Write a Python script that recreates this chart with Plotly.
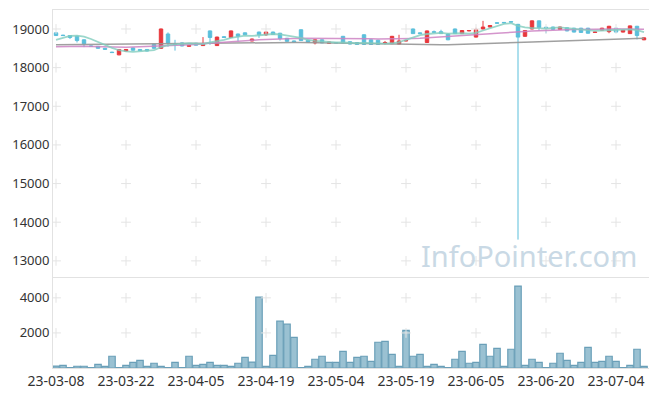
import plotly.graph_objects as go
from plotly.subplots import make_subplots

dates = [
    "2023-03-08","2023-03-09","2023-03-10","2023-03-13","2023-03-14","2023-03-15","2023-03-16","2023-03-17",
    "2023-03-20","2023-03-21","2023-03-22","2023-03-23","2023-03-24","2023-03-27","2023-03-28","2023-03-29",
    "2023-03-30","2023-03-31","2023-04-03","2023-04-04","2023-04-05","2023-04-06","2023-04-07","2023-04-10",
    "2023-04-11","2023-04-12","2023-04-13","2023-04-14","2023-04-17","2023-04-18","2023-04-19","2023-04-20",
    "2023-04-21","2023-04-24","2023-04-25","2023-04-26","2023-04-27","2023-04-28","2023-05-02","2023-05-03",
    "2023-05-04","2023-05-08","2023-05-09","2023-05-10","2023-05-11","2023-05-12","2023-05-15","2023-05-16",
    "2023-05-17","2023-05-18","2023-05-19","2023-05-22","2023-05-23","2023-05-24","2023-05-25","2023-05-26",
    "2023-05-30","2023-05-31","2023-06-01","2023-06-02","2023-06-05","2023-06-07","2023-06-08","2023-06-09",
    "2023-06-12","2023-06-13","2023-06-14","2023-06-15","2023-06-16","2023-06-19","2023-06-20","2023-06-21",
    "2023-06-22","2023-06-23","2023-06-26","2023-06-27","2023-06-28","2023-06-29","2023-06-30","2023-07-03",
    "2023-07-04","2023-07-05","2023-07-06","2023-07-07","2023-07-10",
]

open_ = [
    18900, 18840, 18830, 18810, 18720, 18560, 18550, 18500, 18400, 18330,
    18430, 18510, 18470, 18470, 18600, 18500, 18870, 18610, 18640, 18550,
    18630, 18570, 18950, 18570, 18800, 18780, 18870, 18900, 18690, 18920,
    18850, 18920, 18890, 18760, 18690, 18980, 18710, 18640, 18720, 18630,
    18650, 18810, 18670, 18650, 18850, 18720, 18710, 18630, 18620, 18610,
    18690, 19000, 18900, 18650, 18930, 18930, 18870, 19000, 18880, 18950,
    18790, 19000, 19050, 19160, 19170, 19190, 19120, 18810, 19000, 19210,
    19045, 19050, 18990, 19030, 19020, 19020, 19020, 18910, 18970, 18930,
    19020, 18920, 18880, 19070, 18720,
]
close = [
    18830, 18830, 18780, 18700, 18620, 18550, 18500, 18475, 18390, 18470,
    18470, 18450, 18440, 18430, 18500, 19000, 18640, 18600, 18560, 18570,
    18580, 18600, 18780, 18790, 18780, 18950, 18810, 18850, 18740, 18850,
    18920, 18860, 18750, 18680, 18670, 18700, 18660, 18720, 18640, 18660,
    18640, 18640, 18610, 18600, 18600, 18600, 18600, 18650, 18810, 18690,
    18700, 18880, 18880, 18950, 18915, 18880, 18720, 18880, 18960, 18960,
    18980, 19050, 19090, 19150, 19160, 19180, 18790, 18960, 19210, 19040,
    19030, 18990, 19050, 18950, 18920, 18910, 18890, 18920, 19020, 19070,
    18920, 18970, 19080, 18830, 18770,
]
high = [
    18910, 18850, 18840, 18830, 18730, 18570, 18560, 18510, 18410, 18480,
    18480, 18520, 18480, 18480, 18610, 19010, 18910, 18720, 18650, 18580,
    18640, 18790, 18960, 18800, 18810, 18960, 18880, 18910, 18750, 18930,
    18930, 18930, 18900, 18770, 18700, 18990, 18720, 18730, 18730, 18670,
    18660, 18820, 18680, 18660, 18860, 18730, 18720, 18690, 18820, 18850,
    18720, 19010, 18910, 18960, 18960, 18980, 18880, 19010, 18970, 18970,
    19030, 19210, 19100, 19170, 19180, 19200, 19130, 18970, 19220, 19220,
    19060, 19060, 19060, 19040, 19030, 19030, 19030, 18930, 19030, 19080,
    19030, 18980, 19090, 19080, 18780,
]
low = [
    18820, 18820, 18740, 18650, 18530, 18540, 18490, 18465, 18380, 18320,
    18420, 18440, 18430, 18420, 18490, 18490, 18540, 18440, 18550, 18540,
    18570, 18560, 18590, 18560, 18770, 18770, 18680, 18840, 18680, 18770,
    18820, 18850, 18700, 18670, 18660, 18690, 18650, 18600, 18630, 18620,
    18630, 18630, 18600, 18590, 18590, 18590, 18590, 18600, 18610, 18600,
    18680, 18870, 18870, 18640, 18900, 18870, 18710, 18870, 18870, 18940,
    18780, 18990, 19040, 19140, 19150, 19170, 13550, 18800, 18990, 18960,
    18890, 18980, 18980, 18940, 18910, 18900, 18880, 18900, 18960, 18890,
    18910, 18910, 18870, 18730, 18710,
]
volume = [
    110, 150, 30, 100, 100, 20, 210, 95, 670, 20,
    150, 320, 440, 95, 270, 95, 20, 320, 20, 670,
    150, 210, 320, 150, 150, 95, 270, 610, 340, 4040,
    95, 720, 2670, 2500, 1750, 20, 95, 500, 670, 320,
    320, 950, 320, 610, 670, 380, 1470, 1520, 780, 95,
    2150, 670, 780, 95, 210, 95, 30, 500, 950, 270,
    320, 1350, 670, 1120, 95, 1070, 4670, 150, 500, 320,
    20, 270, 840, 440, 150, 320, 1180, 320, 380, 670,
    380, 20, 150, 1070, 95,
]
ma5 = [
    18720, 18780, 18820, 18830, 18800, 18740, 18660, 18580, 18510, 18450,
    18420, 18410, 18420, 18430, 18450, 18530, 18580, 18600, 18610, 18630,
    18620, 18610, 18650, 18680, 18720, 18770, 18800, 18830, 18820, 18840,
    18860, 18870, 18860, 18830, 18800, 18770, 18720, 18690, 18680, 18660,
    18650, 18650, 18640, 18630, 18640, 18630, 18620, 18620, 18630, 18660,
    18720, 18780, 18840, 18870, 18890, 18900, 18880, 18890, 18890, 18880,
    18900, 18960, 19020, 19080, 19130, 19150, 19080, 19040, 19020, 19020,
    19010, 19030, 19040, 19020, 19000, 18990, 18970, 18950, 18960, 18970,
    18980, 18980, 18990, 18970, 18920,
]
ma20 = [
    18540, 18545, 18550, 18550, 18550, 18545, 18540, 18535, 18530, 18530,
    18530, 18535, 18540, 18545, 18550, 18560, 18565, 18570, 18580, 18590,
    18600, 18615, 18630, 18645, 18660, 18675, 18690, 18700, 18710, 18720,
    18730, 18740, 18745, 18750, 18755, 18760, 18760, 18760, 18755, 18755,
    18750, 18750, 18750, 18745, 18745, 18745, 18740, 18740, 18740, 18745,
    18750, 18755, 18760, 18770, 18780, 18790, 18800, 18810, 18820, 18830,
    18845, 18860, 18875, 18890, 18905, 18920, 18930, 18935, 18945, 18955,
    18965, 18970, 18975, 18980, 18985, 18990, 18995, 18995, 19000, 19000,
    19000, 19000, 19000, 19000, 18995,
]
ma60 = [
    18590, 18592, 18594, 18596, 18598, 18600, 18602, 18604, 18606, 18608,
    18610, 18612, 18614, 18616, 18618, 18620, 18622, 18625, 18628, 18631,
    18634, 18637, 18640, 18643, 18646, 18648, 18650, 18652, 18654, 18655,
    18656, 18655, 18654, 18652, 18650, 18647, 18644, 18640, 18636, 18632,
    18628, 18624, 18620, 18616, 18612, 18608, 18604, 18600, 18596, 18592,
    18590, 18588, 18586, 18586, 18588, 18590, 18594, 18598, 18603, 18608,
    18614, 18620, 18626, 18632, 18638, 18644, 18650, 18656, 18662, 18668,
    18674, 18680, 18686, 18692, 18698, 18704, 18710, 18716, 18722, 18728,
    18734, 18740, 18746, 18752, 18758,
]

tick_dates = ["2023-03-08", "2023-03-22", "2023-04-05", "2023-04-19", "2023-05-04",
              "2023-05-19", "2023-06-05", "2023-06-20", "2023-07-04"]
tick_labels = ["23-03-08", "23-03-22", "23-04-05", "23-04-19", "23-05-04",
               "23-05-19", "23-06-05", "23-06-20", "23-07-04"]
price_ticks = [13000, 14000, 15000, 16000, 17000, 18000, 19000]
volume_ticks = [2000, 4000]

UP = "#e8383d"
DOWN = "#5bbfdb"
FONT = "Noto Sans"
AXC = "#e2e2e2"

fig = make_subplots(rows=2, cols=1, shared_xaxes=True, vertical_spacing=0.003,
                    row_heights=[0.747, 0.253])

# grid "+" markers at tick intersections (drawn first, underneath)
gx, gy = [], []
for d in tick_dates:
    for p in price_ticks:
        gx.append(d); gy.append(p)
fig.add_trace(go.Scatter(x=gx, y=gy, mode="markers", hoverinfo="skip",
                         marker=dict(symbol="cross-thin", size=7,
                                     line=dict(color="#e4e4e4", width=1))), row=1, col=1)
vx, vy = [], []
for d in tick_dates:
    for v in volume_ticks:
        vx.append(d); vy.append(v)
fig.add_trace(go.Scatter(x=vx, y=vy, mode="markers", hoverinfo="skip",
                         marker=dict(symbol="cross-thin", size=7,
                                     line=dict(color="#e4e4e4", width=1))), row=2, col=1)

fig.add_trace(go.Scatter(x=dates, y=ma60, mode="lines", hoverinfo="skip",
                         line=dict(color="rgba(150,150,150,0.9)", width=1.5)), row=1, col=1)
fig.add_trace(go.Scatter(x=dates, y=ma20, mode="lines", hoverinfo="skip",
                         line=dict(color="rgba(205,130,195,0.85)", width=1.5)), row=1, col=1)
fig.add_trace(go.Scatter(x=dates, y=ma5, mode="lines", hoverinfo="skip",
                         line=dict(color="rgba(130,205,190,0.8)", width=1.8)), row=1, col=1)

fig.add_trace(go.Candlestick(
    x=dates, open=open_, high=high, low=low, close=close,
    increasing=dict(line=dict(color=UP, width=1), fillcolor=UP),
    decreasing=dict(line=dict(color=DOWN, width=1), fillcolor=DOWN),
    whiskerwidth=0, hoverinfo="skip"), row=1, col=1)

fig.add_trace(go.Bar(x=dates, y=volume, hoverinfo="skip",
                     marker=dict(color="#9ac1d2",
                                 line=dict(color="#6a9fb8", width=1.2))),
              row=2, col=1)

xr = [-0.43, 85.57]
fig.update_xaxes(type="category", categoryorder="array", categoryarray=dates,
                 range=xr, showgrid=False, zeroline=False,
                 showline=True, linecolor=AXC, linewidth=1, mirror=True,
                 tickmode="array", tickvals=tick_dates, ticktext=tick_labels,
                 ticks="", tickangle=0, automargin=False,
                 rangeslider=dict(visible=False),
                 tickfont=dict(family=FONT, size=14, color="#333333"))
fig.update_xaxes(showticklabels=False, row=1, col=1)
fig.update_yaxes(showgrid=False, zeroline=False, showline=True, linecolor=AXC,
                 linewidth=1, mirror=True, ticks="", tickformat="d", automargin=False,
                 tickfont=dict(family=FONT, size=13, color="#333333"))
fig.update_yaxes(range=[12592, 19491], tickvals=price_ticks, row=1, col=1)
fig.update_yaxes(range=[0, 5150], tickvals=volume_ticks, row=2, col=1)

fig.add_annotation(text="InfoPointer.com", xref="paper", yref="paper",
                   x=0.79, y=0.313, xanchor="center", yanchor="middle",
                   showarrow=False,
                   font=dict(family=FONT, size=29, color="#c9d9e5"))

# page body has an 8px margin: shrink the figure and offset margins to compensate
fig.update_layout(width=649, height=388, margin=dict(l=45, r=2, t=2, b=28),
                  paper_bgcolor="white", plot_bgcolor="white",
                  showlegend=False, bargap=0.08, hovermode=False)

fig.write_html("out.html")
